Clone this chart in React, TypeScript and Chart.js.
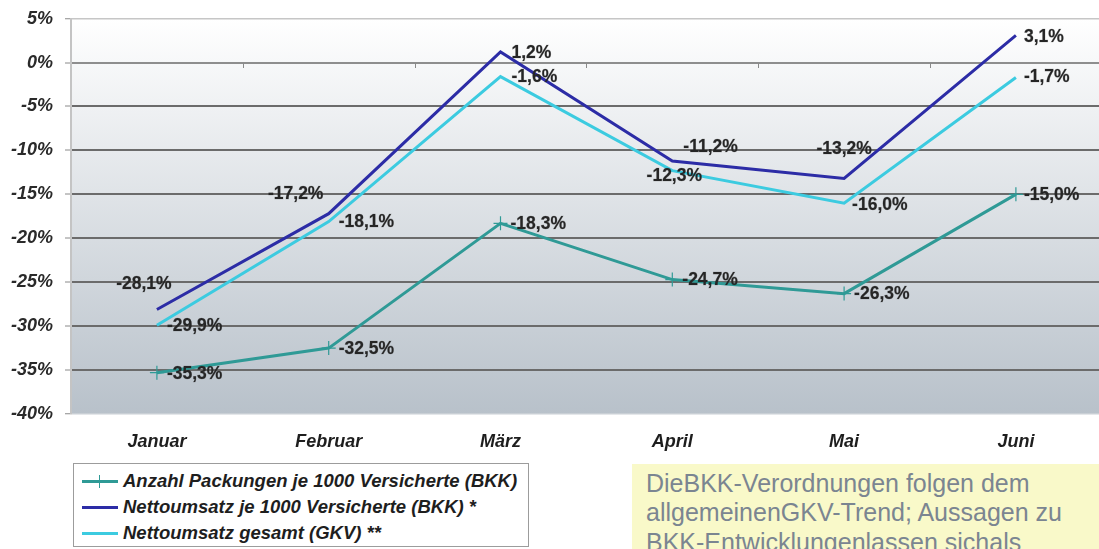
import React, { useEffect, useRef } from 'react';
import { Chart, registerables } from 'chart.js';

Chart.register(...registerables);

// ---------- data ----------
const MONTHS = ['Januar', 'Februar', 'März', 'April', 'Mai', 'Juni'];
const SERIES_LABELS = [
  'Anzahl Packungen je 1000 Versicherte (BKK)',
  'Nettoumsatz je 1000 Versicherte (BKK) *',
  'Nettoumsatz gesamt (GKV) **',
];
const PACKUNGEN_BKK = [-35.3, -32.5, -18.3, -24.7, -26.3, -15.0];
const UMSATZ_BKK = [-28.1, -17.2, 1.2, -11.2, -13.2, 3.1];
const UMSATZ_GKV = [-29.9, -18.1, -1.6, -12.3, -16.0, -1.7];
const Y_MIN = -40;
const Y_MAX = 5;
const Y_STEP = 5;
const NOTE_LINES = [
  'DieBKK-Verordnungen folgen dem',
  'allgemeinenGKV-Trend; Aussagen zu',
  'BKK-Entwicklungenlassen sichals',
];

const COLORS = ['#2f9a96', '#2c2ca6', '#3ccbe0'];

const FONT = "'Liberation Sans', Arial, Helvetica, sans-serif";

const fmt = (v: number) => v.toFixed(1).replace('.', ',') + '%';

type Place = { dx: number; dy: number; align: CanvasTextAlign };
const R: Place = { dx: 10, dy: 1, align: 'left' };

const bgPlugin = {
  id: 'plotBg',
  beforeDraw(chart: any) {
    const { ctx, chartArea } = chart;
    const y = chart.scales.y;
    const y0 = y.getPixelForValue(0);
    const g = ctx.createLinearGradient(0, chartArea.top, 0, chartArea.bottom);
    const f0 = (y0 - chartArea.top) / (chartArea.bottom - chartArea.top);
    g.addColorStop(0, '#ffffff');
    g.addColorStop(f0, '#f7f8f9');
    g.addColorStop(1, '#b8c1ca');
    ctx.save();
    ctx.fillStyle = g;
    ctx.fillRect(chartArea.left, chartArea.top, chartArea.right - chartArea.left, chartArea.bottom - chartArea.top);
    ctx.restore();
  },
  afterDraw(chart: any) {
    // small category ticks on the 0% line
    const { ctx } = chart;
    const x = chart.scales.x;
    const y = chart.scales.y;
    const y0 = Math.round(y.getPixelForValue(0));
    ctx.save();
    ctx.strokeStyle = '#8a8a8a';
    ctx.lineWidth = 1;
    for (let i = 0; i < MONTHS.length - 1; i++) {
      const px = Math.round((x.getPixelForValue(i) + x.getPixelForValue(i + 1)) / 2) + 0.5;
      ctx.beginPath();
      ctx.moveTo(px, y0);
      ctx.lineTo(px, y0 + 5);
      ctx.stroke();
    }
    ctx.restore();
  },
};

const labelPlugin = {
  id: 'pointLabels',
  afterDatasetsDraw(chart: any, _args: any, opts: any) {
    const { ctx } = chart;
    const places: Place[][] = opts.places;
    ctx.save();
    ctx.font = `bold 17.5px ${FONT}`;
    ctx.fillStyle = '#262626';
    ctx.strokeStyle = 'rgba(38,38,38,0.35)';
    ctx.lineWidth = 0.6;
    ctx.textBaseline = 'middle';
    chart.data.datasets.forEach((ds: any, di: number) => {
      const meta = chart.getDatasetMeta(di);
      meta.data.forEach((pt: any, i: number) => {
        const p = places[di][i] || R;
        ctx.textAlign = p.align;
        const t = fmt(ds.data[i]);
        ctx.fillText(t, pt.x + p.dx, pt.y + p.dy);
        ctx.strokeText(t, pt.x + p.dx, pt.y + p.dy);
      });
    });
    ctx.restore();
  },
};

export default function App() {
  const ref = useRef<HTMLCanvasElement | null>(null);

  useEffect(() => {
    if (!ref.current) return;
    const gridColor = (v: number) => {
      if (v === Y_MAX) return '#c6c6c6';
      if (v === Y_MIN) return '#c9cfd5';
      if (v === 0) return '#8e8e8e';
      return '#6b6b6b';
    };
    const chart = new Chart(ref.current, {
      type: 'line',
      data: {
        labels: MONTHS,
        datasets: [
          {
            label: SERIES_LABELS[0],
            data: PACKUNGEN_BKK,
            borderColor: COLORS[0],
            backgroundColor: COLORS[0],
            borderWidth: 3,
            pointStyle: 'cross',
            pointRadius: 7,
            pointBorderWidth: 1.2,
            tension: 0,
          },
          {
            label: SERIES_LABELS[1],
            data: UMSATZ_BKK,
            borderColor: COLORS[1],
            backgroundColor: COLORS[1],
            borderWidth: 3,
            pointRadius: 0,
            tension: 0,
          },
          {
            label: SERIES_LABELS[2],
            data: UMSATZ_GKV,
            borderColor: COLORS[2],
            backgroundColor: COLORS[2],
            borderWidth: 3,
            pointRadius: 0,
            tension: 0,
          },
        ],
      },
      options: {
        responsive: false,
        animation: false,
        devicePixelRatio: 1,
        layout: { padding: { top: 18.6, right: 2, bottom: 95, left: 0 } },
        plugins: {
          legend: { display: false },
          tooltip: { enabled: false },
          pointLabels: {
            places: [
              [R, R, R, R, R, { dx: 8, dy: 1, align: 'left' }],
              [
                { dx: -13, dy: -25, align: 'center' },
                { dx: -33, dy: -19, align: 'center' },
                { dx: 11, dy: 1, align: 'left' },
                { dx: 11, dy: -14, align: 'left' },
                { dx: 0, dy: -29, align: 'center' },
                { dx: 8, dy: 2, align: 'left' },
              ],
              [R, R, { dx: 11, dy: 1, align: 'left' }, { dx: 2, dy: 6, align: 'center' }, { dx: 8, dy: 2, align: 'left' }, { dx: 8, dy: 0, align: 'left' }],
            ],
          },
        } as any,
        scales: {
          x: {
            type: 'category',
            offset: true,
            grid: { display: false, drawTicks: false },
            border: { display: false },
            ticks: {
              padding: 17,
              color: '#1e1e1e',
              font: { family: FONT, size: 18, weight: 'bold', style: 'italic' },
            },
            afterFit: (s: any) => {
              s.height = 40;
            },
          },
          y: {
            min: Y_MIN,
            max: Y_MAX,
            ticks: {
              stepSize: Y_STEP,
              padding: 12,
              color: '#2a2a2a',
              font: { family: FONT, size: 18, weight: 'bold', style: 'italic' },
              callback: (v: any) => `${v}%`,
            },
            grid: {
              color: (c: any) => gridColor(c.tick ? c.tick.value : 0),
              lineWidth: (c: any) => (c.tick && (c.tick.value === Y_MAX || c.tick.value === Y_MIN) ? 1.5 : 2),
              tickLength: 6,
              tickColor: '#8a8a8a',
              tickWidth: 1,
            },
            border: { display: true, color: '#c4c4c4', width: 2 },
            afterFit: (s: any) => {
              s.width = 71;
              s.paddingTop = 0;
              s.paddingBottom = 0;
            },
          },
        },
      },
      plugins: [bgPlugin, labelPlugin],
    });
    return () => chart.destroy();
  }, []);

  return (
    <div
      style={{
        position: 'fixed',
        left: 0,
        top: 0,
        width: 1099,
        height: 549,
        overflow: 'hidden',
        background: '#ffffff',
        fontFamily: FONT,
      }}
    >
      <canvas ref={ref} width={1110} height={549} style={{ position: 'absolute', left: 0, top: 0, width: 1110, height: 549 }} />
      <div
        style={{
          position: 'absolute',
          left: 73,
          top: 463,
          width: 456,
          height: 84,
          border: '1px solid #9c9c9c',
          background: '#ffffff',
          boxSizing: 'border-box',
          paddingTop: 4,
        }}
      >
        {SERIES_LABELS.map((lab, i) => (
          <div key={lab} style={{ position: 'relative', height: 26 }}>
            <div style={{ position: 'absolute', left: 8, top: 12, width: 36, height: 3, background: COLORS[i] }} />
            {i === 0 && (
              <div style={{ position: 'absolute', left: 25, top: 7, width: 1, height: 13, background: COLORS[0] }} />
            )}
            <span
              style={{
                position: 'absolute',
                left: 49,
                top: 2,
                fontSize: 18.5,
                fontWeight: 'bold',
                fontStyle: 'italic',
                color: '#1e1e1e',
                whiteSpace: 'nowrap',
                lineHeight: '22px',
              }}
            >
              {lab}
            </span>
          </div>
        ))}
      </div>
      <div
        style={{
          position: 'absolute',
          left: 632,
          top: 464,
          width: 480,
          height: 100,
          background: '#f9f9c9',
          boxSizing: 'border-box',
          paddingTop: 4.5,
          paddingLeft: 14,
          fontSize: 25,
          lineHeight: '29.5px',
          color: '#7b8591',
          whiteSpace: 'nowrap',
        }}
      >
        {NOTE_LINES.map((l) => (
          <div key={l}>{l}</div>
        ))}
      </div>
    </div>
  );
}
